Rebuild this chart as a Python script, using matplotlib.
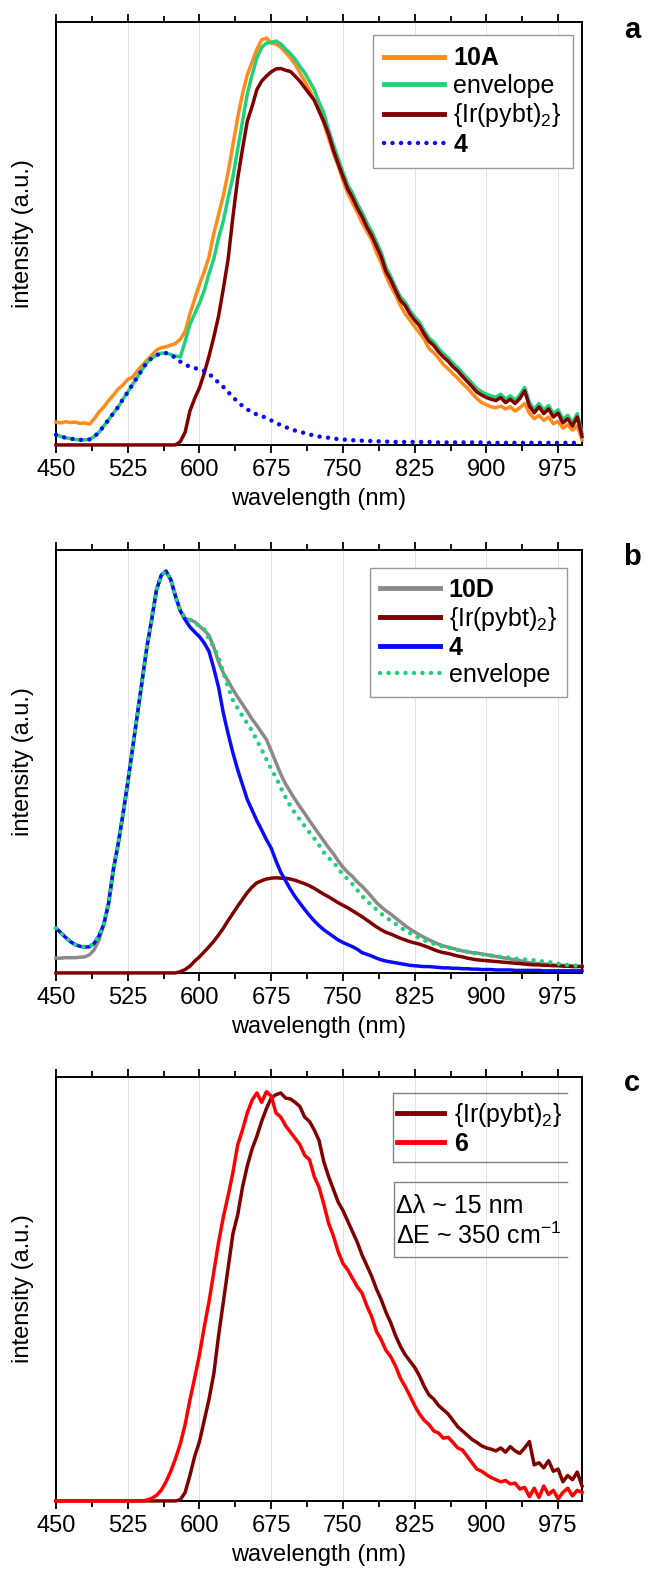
import numpy as np
import matplotlib.pyplot as plt

plt.rcParams['font.family'] = ['Liberation Sans', 'DejaVu Sans']
plt.rcParams['mathtext.fontset'] = 'custom'
plt.rcParams['mathtext.rm'] = 'Liberation Sans'
plt.rcParams['mathtext.it'] = 'Liberation Sans:italic'
plt.rcParams['mathtext.bf'] = 'Liberation Sans:bold'

# wavelength grid of the spectra (nm)
wl = np.arange(450, 1001, 5)

# ---- panel a ----
a_10A = [0.054, 0.052, 0.055, 0.053, 0.054, 0.051, 0.052, 0.049, 0.062, 0.078,
         0.090, 0.105, 0.118, 0.132, 0.142, 0.155, 0.160, 0.175, 0.188, 0.200,
         0.212, 0.224, 0.230, 0.232, 0.236, 0.240, 0.250, 0.268, 0.310, 0.345,
         0.380, 0.410, 0.445, 0.500, 0.545, 0.590, 0.645, 0.710, 0.775, 0.830,
         0.875, 0.905, 0.935, 0.958, 0.962, 0.950, 0.948, 0.940, 0.928, 0.915,
         0.900, 0.880, 0.860, 0.840, 0.815, 0.790, 0.760, 0.725, 0.690, 0.660,
         0.625, 0.595, 0.572, 0.550, 0.525, 0.505, 0.485, 0.455, 0.430, 0.400,
         0.375, 0.355, 0.330, 0.310, 0.295, 0.280, 0.265, 0.250, 0.228, 0.218,
         0.205, 0.190, 0.180, 0.168, 0.158, 0.145, 0.135, 0.122, 0.110, 0.100,
         0.095, 0.090, 0.088, 0.092, 0.085, 0.090, 0.080, 0.088, 0.098, 0.075,
         0.062, 0.070, 0.058, 0.066, 0.050, 0.056, 0.040, 0.048, 0.035, 0.045,
         0.012]
a_env = [0.024, 0.020, 0.017, 0.015, 0.013, 0.012, 0.012, 0.013, 0.020, 0.030,
         0.045, 0.060, 0.075, 0.090, 0.108, 0.125, 0.143, 0.160, 0.178, 0.195,
         0.205, 0.212, 0.217, 0.217, 0.214, 0.210, 0.208, 0.245, 0.285, 0.310,
         0.335, 0.365, 0.405, 0.440, 0.490, 0.530, 0.585, 0.634, 0.700, 0.765,
         0.830, 0.875, 0.915, 0.940, 0.950, 0.952, 0.955, 0.948, 0.936, 0.925,
         0.912, 0.895, 0.880, 0.860, 0.840, 0.810, 0.785, 0.745, 0.710, 0.678,
         0.645, 0.615, 0.595, 0.570, 0.550, 0.525, 0.505, 0.480, 0.455, 0.420,
         0.398, 0.373, 0.350, 0.338, 0.318, 0.303, 0.290, 0.270, 0.253, 0.243,
         0.228, 0.216, 0.206, 0.193, 0.183, 0.170, 0.158, 0.146, 0.133, 0.126,
         0.120, 0.116, 0.113, 0.120, 0.108, 0.116, 0.106, 0.118, 0.136, 0.100,
         0.084, 0.098, 0.082, 0.093, 0.074, 0.083, 0.060, 0.070, 0.053, 0.074,
         0.028]
a_ir = [0, 0, 0, 0, 0, 0, 0, 0, 0, 0,
        0, 0, 0, 0, 0, 0, 0, 0, 0, 0,
        0, 0, 0, 0, 0, 0, 0.008, 0.030, 0.080, 0.110,
        0.135, 0.170, 0.210, 0.255, 0.305, 0.370, 0.440, 0.540, 0.630, 0.700,
        0.765, 0.800, 0.840, 0.860, 0.872, 0.882, 0.889, 0.890, 0.886, 0.883,
        0.872, 0.860, 0.845, 0.830, 0.815, 0.790, 0.765, 0.735, 0.697, 0.665,
        0.635, 0.605, 0.585, 0.560, 0.540, 0.515, 0.495, 0.470, 0.445, 0.410,
        0.390, 0.365, 0.342, 0.330, 0.310, 0.295, 0.282, 0.262, 0.245, 0.235,
        0.220, 0.208, 0.198, 0.185, 0.175, 0.162, 0.150, 0.138, 0.125, 0.118,
        0.112, 0.108, 0.105, 0.112, 0.100, 0.108, 0.098, 0.110, 0.128, 0.092,
        0.076, 0.090, 0.074, 0.085, 0.066, 0.075, 0.052, 0.062, 0.045, 0.066,
        0.020]
a_4 = [0.024, 0.020, 0.017, 0.015, 0.013, 0.012, 0.012, 0.013, 0.020, 0.030,
       0.045, 0.060, 0.075, 0.090, 0.108, 0.125, 0.143, 0.160, 0.178, 0.195,
       0.205, 0.212, 0.217, 0.217, 0.214, 0.205, 0.197, 0.190, 0.185, 0.182,
       0.178, 0.175, 0.168, 0.158, 0.147, 0.137, 0.125, 0.113, 0.102, 0.092,
       0.084, 0.077, 0.072, 0.068, 0.064, 0.058, 0.052, 0.047, 0.042, 0.038,
       0.034, 0.031, 0.028, 0.025, 0.022, 0.020, 0.018, 0.017, 0.015, 0.014,
       0.013, 0.012, 0.011, 0.011, 0.010, 0.010, 0.009, 0.009, 0.008, 0.008,
       0.007, 0.007, 0.007, 0.007, 0.007, 0.007, 0.007, 0.007, 0.007, 0.007,
       0.006, 0.006, 0.006, 0.006, 0.006, 0.006, 0.006, 0.006, 0.006, 0.006,
       0.005, 0.005, 0.005, 0.005, 0.005, 0.005, 0.005, 0.005, 0.005, 0.005,
       0.005, 0.005, 0.005, 0.005, 0.005, 0.005, 0.005, 0.005, 0.005, 0.005,
       0.005]

# ---- panel b ----
b_10D = [0.035, 0.035, 0.036, 0.036, 0.036, 0.037, 0.038, 0.043, 0.055, 0.078,
         0.115, 0.165, 0.245, 0.305, 0.375, 0.450, 0.530, 0.610, 0.690, 0.770,
         0.835, 0.905, 0.940, 0.950, 0.930, 0.890, 0.856, 0.838, 0.835, 0.830,
         0.820, 0.810, 0.798, 0.770, 0.735, 0.709, 0.690, 0.670, 0.652, 0.635,
         0.618, 0.600, 0.585, 0.568, 0.552, 0.525, 0.497, 0.470, 0.447, 0.428,
         0.410, 0.393, 0.377, 0.360, 0.344, 0.328, 0.312, 0.296, 0.282, 0.265,
         0.250, 0.238, 0.228, 0.215, 0.205, 0.193, 0.180, 0.167, 0.156, 0.147,
         0.139, 0.130, 0.121, 0.112, 0.104, 0.097, 0.090, 0.084, 0.078, 0.073,
         0.068, 0.064, 0.061, 0.058, 0.055, 0.052, 0.050, 0.048, 0.047, 0.045,
         0.043, 0.041, 0.039, 0.037, 0.035, 0.033, 0.031, 0.029, 0.026, 0.024,
         0.023, 0.022, 0.021, 0.020, 0.019, 0.018, 0.018, 0.017, 0.017, 0.016,
         0.016]
b_ir = [0, 0, 0, 0, 0, 0, 0, 0, 0, 0,
        0, 0, 0, 0, 0, 0, 0, 0, 0, 0,
        0, 0, 0, 0, 0, 0, 0.003, 0.008, 0.016, 0.028,
        0.038, 0.050, 0.062, 0.075, 0.090, 0.106, 0.124, 0.141, 0.158, 0.174,
        0.190, 0.203, 0.213, 0.218, 0.222, 0.224, 0.225, 0.224, 0.224, 0.222,
        0.219, 0.215, 0.211, 0.206, 0.200, 0.193, 0.186, 0.180, 0.173, 0.166,
        0.160, 0.154, 0.147, 0.140, 0.133, 0.125, 0.117, 0.109, 0.102, 0.096,
        0.092, 0.087, 0.082, 0.078, 0.074, 0.071, 0.068, 0.064, 0.060, 0.055,
        0.051, 0.048, 0.046, 0.043, 0.040, 0.038, 0.035, 0.033, 0.031, 0.030,
        0.029, 0.028, 0.027, 0.026, 0.025, 0.024, 0.023, 0.022, 0.021, 0.020,
        0.019, 0.019, 0.018, 0.018, 0.017, 0.017, 0.016, 0.016, 0.015, 0.015,
        0.015]
b_4 = [0.106, 0.095, 0.084, 0.074, 0.067, 0.063, 0.061, 0.062, 0.070, 0.088,
       0.115, 0.165, 0.245, 0.305, 0.375, 0.450, 0.530, 0.610, 0.690, 0.770,
       0.835, 0.905, 0.940, 0.950, 0.930, 0.890, 0.856, 0.835, 0.818, 0.806,
       0.795, 0.780, 0.760, 0.720, 0.675, 0.614, 0.565, 0.520, 0.480, 0.445,
       0.410, 0.385, 0.360, 0.338, 0.315, 0.295, 0.265, 0.238, 0.218, 0.198,
       0.180, 0.165, 0.150, 0.136, 0.123, 0.112, 0.102, 0.094, 0.086, 0.078,
       0.072, 0.067, 0.062, 0.056, 0.048, 0.044, 0.040, 0.035, 0.031, 0.028,
       0.026, 0.024, 0.022, 0.020, 0.018, 0.017, 0.016, 0.015, 0.015, 0.014,
       0.013, 0.012, 0.012, 0.011, 0.011, 0.010, 0.010, 0.009, 0.009, 0.008,
       0.008, 0.008, 0.007, 0.007, 0.007, 0.007, 0.006, 0.006, 0.006, 0.006,
       0.006, 0.006, 0.005, 0.005, 0.005, 0.005, 0.005, 0.005, 0.005, 0.005,
       0.005]
b_env = [0.106, 0.095, 0.084, 0.074, 0.067, 0.063, 0.061, 0.062, 0.070, 0.088,
         0.115, 0.165, 0.245, 0.305, 0.375, 0.450, 0.530, 0.610, 0.690, 0.770,
         0.835, 0.905, 0.940, 0.950, 0.930, 0.890, 0.856, 0.840, 0.835, 0.828,
         0.820, 0.812, 0.790, 0.770, 0.745, 0.710, 0.675, 0.645, 0.625, 0.607,
         0.590, 0.572, 0.550, 0.528, 0.505, 0.482, 0.462, 0.438, 0.415, 0.395,
         0.377, 0.362, 0.347, 0.332, 0.318, 0.302, 0.285, 0.272, 0.262, 0.248,
         0.232, 0.222, 0.210, 0.196, 0.182, 0.170, 0.160, 0.150, 0.140, 0.131,
         0.124, 0.116, 0.108, 0.100, 0.094, 0.088, 0.082, 0.077, 0.073, 0.069,
         0.065, 0.062, 0.060, 0.057, 0.054, 0.052, 0.050, 0.047, 0.046, 0.044,
         0.042, 0.041, 0.040, 0.038, 0.037, 0.036, 0.034, 0.033, 0.032, 0.031,
         0.030, 0.028, 0.027, 0.026, 0.024, 0.022, 0.020, 0.019, 0.018, 0.017,
         0.016]

# ---- panel c ----
c_ir = [0, 0, 0, 0, 0, 0, 0, 0, 0, 0,
        0, 0, 0, 0, 0, 0, 0, 0, 0, 0,
        0, 0, 0, 0, 0, 0, 0.003, 0.020, 0.060, 0.105,
        0.140, 0.190, 0.240, 0.300, 0.390, 0.470, 0.550, 0.630, 0.675, 0.740,
        0.790, 0.830, 0.860, 0.895, 0.925, 0.950, 0.958, 0.962, 0.950, 0.948,
        0.940, 0.930, 0.905, 0.895, 0.875, 0.850, 0.800, 0.765, 0.735, 0.705,
        0.685, 0.660, 0.635, 0.610, 0.580, 0.555, 0.530, 0.500, 0.475, 0.445,
        0.420, 0.390, 0.365, 0.345, 0.330, 0.315, 0.295, 0.270, 0.250, 0.240,
        0.225, 0.215, 0.205, 0.190, 0.175, 0.165, 0.155, 0.145, 0.138, 0.130,
        0.125, 0.122, 0.118, 0.125, 0.115, 0.128, 0.118, 0.112, 0.125, 0.140,
        0.085, 0.090, 0.078, 0.095, 0.070, 0.075, 0.045, 0.060, 0.050, 0.068,
        0.035]
c_6 = [0, 0, 0, 0, 0, 0, 0, 0, 0, 0,
       0, 0, 0, 0, 0, 0, 0, 0, 0, 0.002,
       0.006, 0.013, 0.025, 0.045, 0.070, 0.100, 0.135, 0.180, 0.238, 0.290,
       0.345, 0.410, 0.470, 0.540, 0.610, 0.670, 0.720, 0.775, 0.840, 0.875,
       0.915, 0.945, 0.962, 0.940, 0.965, 0.955, 0.915, 0.905, 0.885, 0.870,
       0.855, 0.840, 0.815, 0.805, 0.765, 0.740, 0.700, 0.655, 0.625, 0.588,
       0.560, 0.545, 0.525, 0.505, 0.490, 0.460, 0.435, 0.400, 0.380, 0.355,
       0.340, 0.318, 0.290, 0.270, 0.248, 0.225, 0.205, 0.190, 0.180, 0.165,
       0.160, 0.148, 0.150, 0.138, 0.125, 0.120, 0.105, 0.090, 0.075, 0.070,
       0.062, 0.055, 0.050, 0.045, 0.048, 0.040, 0.042, 0.028, 0.032, 0.010,
       0.030, 0.008, 0.035, 0.015, 0.025, 0.005, 0.020, 0.030, 0.012, 0.025,
       0.020]

ORANGE = '#ff8c1a'
GREEN = '#1fd27a'
BROWN = '#800000'
BLUE = '#0a0aff'
GREY = '#8a8a8a'
RED = '#ff0000'
DOT = (0, (0.01, 1.9))

fig = plt.figure(figsize=(6.49, 15.70), dpi=100)
ax_a = fig.add_axes([0.0863, 0.7166, 0.8105, 0.2694])
ax_b = fig.add_axes([0.0863, 0.3803, 0.8105, 0.2694])
ax_c = fig.add_axes([0.0863, 0.0440, 0.8105, 0.2701])


def style(ax):
  ax.set_xlim(450, 1000)
  ax.set_ylim(0, 1)
  ax.set_xticks(np.arange(450, 1000, 75))
  ax.set_xticks(np.arange(487.5, 1000, 75), minor=True)
  ax.set_yticks([])
  ax.tick_params(axis='x', which='both', top=True, direction='out',
                 labelsize=17, width=1.3, color='black')
  ax.tick_params(axis='x', which='major', length=6, pad=4)
  ax.tick_params(axis='x', which='minor', length=4.5)
  ax.grid(axis='x', which='major', color='#e2e2e2', lw=0.7)
  ax.set_axisbelow(True)
  for s in ax.spines.values():
    s.set_linewidth(1.4)
  ax.set_xlabel('wavelength (nm)', fontsize=17, labelpad=5)
  ax.set_ylabel('intensity (a.u.)', fontsize=17)
  ax.yaxis.set_label_coords(-0.042, 0.5)


def fix_legend(leg, bold):
  for t in leg.get_texts():
    if t.get_text() in bold:
      t.set_fontweight('bold')
  for h in leg.legend_handles:
    if h.get_linestyle() == '-':
      h.set_linewidth(3.5)


kw = dict(lw=2.5, clip_on=False, zorder=3)
ir_label = r'{Ir(pybt)$_{2}$}'

# panel a
style(ax_a)
ax_a.plot(wl, a_10A, color=ORANGE, label='10A', **kw)
ax_a.plot(wl, a_env, color=GREEN, label='envelope', **kw)
ax_a.plot(wl, a_ir, color=BROWN, label=ir_label, **kw)
ax_a.plot(wl, a_4, color=BLUE, label='4', lw=3.2, ls=DOT,
          dash_capstyle='round', clip_on=False, zorder=3)
leg = ax_a.legend(loc='upper left', bbox_to_anchor=(0.603, 0.969), borderaxespad=0,
                  fontsize=18, handlelength=2.4, handletextpad=0.35, labelspacing=0.14,
                  borderpad=0.45, fancybox=False, edgecolor='#999999', framealpha=1)
leg.get_frame().set_linewidth(1.0)
fix_legend(leg, ['10A', '4'])

# panel b
style(ax_b)
ax_b.plot(wl, b_10D, color=GREY, label='10D', **kw)
ax_b.plot(wl, b_ir, color=BROWN, label=ir_label, **kw)
ax_b.plot(wl, b_4, color=BLUE, label='4', **kw)
ax_b.plot(wl, b_env, color=GREEN, label='envelope', lw=3.2, ls=DOT,
          dash_capstyle='round', clip_on=False, zorder=3)
leg = ax_b.legend(loc='upper left', bbox_to_anchor=(0.597, 0.957), borderaxespad=0,
                  fontsize=18, handlelength=2.4, handletextpad=0.35, labelspacing=0.12,
                  borderpad=0.4, fancybox=False, edgecolor='#999999', framealpha=1)
leg.get_frame().set_linewidth(1.0)
fix_legend(leg, ['10D', '4'])

# panel c
style(ax_c)
ax_c.plot(wl, c_ir, color=BROWN, label=ir_label, **kw)
ax_c.plot(wl, c_6, color=RED, label='6', **kw)
leg = ax_c.legend(loc='upper left', bbox_to_anchor=(0.629, 0.967), borderaxespad=0,
                  fontsize=18, handlelength=1.9, handletextpad=0.4, labelspacing=0.12,
                  borderpad=0.4, frameon=False)
fix_legend(leg, ['6'])
# open boxes (no right edge) around legend and note
ax_c.plot([0.9715, 0.6407, 0.6407, 0.9715], [0.962, 0.962, 0.7995, 0.7995],
          transform=ax_c.transAxes, color='#808080', lw=1.0, clip_on=False, zorder=4)
ax_c.plot([0.9715, 0.6426, 0.6426, 0.9715], [0.7524, 0.7524, 0.5755, 0.5755],
          transform=ax_c.transAxes, color='#808080', lw=1.0, clip_on=False, zorder=4)
ax_c.text(0.646, 0.696, '\u0394\u03bb ~ 15 nm', transform=ax_c.transAxes,
          fontsize=18, va='center', ha='left')
ax_c.text(0.646, 0.625, '\u0394E ~ 350 cm$^{\u22121}$', transform=ax_c.transAxes,
          fontsize=18, va='center', ha='left')

for y, letter in [(30, 'a'), (557, 'b'), (1083, 'c')]:
  fig.text(632 / 649, 1 - y / 1570, letter, fontsize=21, fontweight='bold',
           ha='center', va='center')

fig.savefig('out.png', dpi=100)
